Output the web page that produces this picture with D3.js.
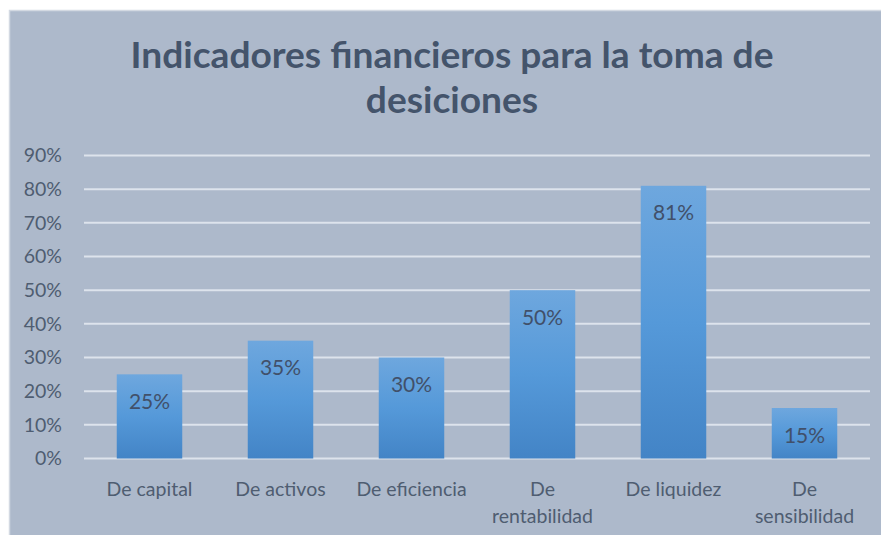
<!DOCTYPE html>
<html>
<head>
<meta charset="utf-8">
<script src="https://cdn.jsdelivr.net/npm/d3@7"></script>
<style>
  html, body { margin: 0; padding: 0; background: #ffffff; }
  svg { display: block; }
</style>
</head>
<body>
<div id="chart"></div>
<script>
const titleLines = ["Indicadores financieros para la toma de", "desiciones"];
const categories = ["De capital", "De activos", "De eficiencia", "De rentabilidad", "De liquidez", "De sensibilidad"];
const categoryLabels = [["De capital"], ["De activos"], ["De eficiencia"], ["De", "rentabilidad"], ["De liquidez"], ["De", "sensibilidad"]];
const values = [0.25, 0.35, 0.30, 0.50, 0.81, 0.15];
const yTicks = [0, 0.1, 0.2, 0.3, 0.4, 0.5, 0.6, 0.7, 0.8, 0.9];

const width = 881, height = 535;
const font = "Lato, 'Open Sans', sans-serif";
const plot = { left: 84, right: 870, top: 155.5, bottom: 458.5 };

const svg = d3.select("#chart").append("svg")
    .attr("width", width)
    .attr("height", height);

// bar gradient, light at the top, darker at the base
const grad = svg.append("defs").append("linearGradient")
    .attr("id", "barGrad")
    .attr("x1", 0).attr("y1", 0).attr("x2", 0).attr("y2", 1);
grad.append("stop").attr("offset", "0%").attr("stop-color", "#6ea7de");
grad.append("stop").attr("offset", "50%").attr("stop-color", "#5599d9");
grad.append("stop").attr("offset", "100%").attr("stop-color", "#4384c6");

// chart area
svg.append("rect")
    .attr("x", 9.5).attr("y", 10.5)
    .attr("width", width).attr("height", height)
    .attr("fill", "#adb9cb")
    .attr("stroke", "#d3d9e2")
    .attr("stroke-width", 1.5);

const x = d3.scaleBand()
    .domain(categories)
    .range([plot.left, plot.right])
    .paddingInner(0.5)
    .paddingOuter(0.25);

const y = d3.scaleLinear()
    .domain([0, 0.9])
    .range([plot.bottom, plot.top]);

// gridlines
svg.append("g")
    .selectAll("line")
    .data(yTicks)
    .join("line")
    .attr("x1", plot.left)
    .attr("x2", plot.right)
    .attr("y1", (d) => y(d))
    .attr("y2", (d) => y(d))
    .attr("stroke", "#dde3ec")
    .attr("stroke-width", 2);

// y axis labels
const yAxis = svg.append("g")
    .attr("transform", `translate(${plot.left},0)`)
    .call(d3.axisLeft(y).tickValues(yTicks).tickFormat(d3.format(".0%")).tickSize(0).tickPadding(22));
yAxis.select(".domain").remove();
yAxis.selectAll("text")
    .attr("font-family", font)
    .attr("font-size", 19.5)
    .attr("fill", "#4f5d71");

// bars
svg.append("g")
    .selectAll("rect")
    .data(values)
    .join("rect")
    .attr("x", (d, i) => x(categories[i]))
    .attr("y", (d) => y(d))
    .attr("width", x.bandwidth())
    .attr("height", (d) => y(0) - y(d))
    .attr("fill", "url(#barGrad)");

// value labels inside bars
svg.append("g")
    .selectAll("text")
    .data(values)
    .join("text")
    .attr("x", (d, i) => x(categories[i]) + x.bandwidth() / 2)
    .attr("y", (d) => y(d) + 26)
    .attr("text-anchor", "middle")
    .attr("dominant-baseline", "central")
    .attr("font-family", font)
    .attr("font-size", 21)
    .attr("fill", "#41506a")
    .text((d) => d3.format(".0%")(d));

// category labels
const catG = svg.append("g");
categories.forEach((c, i) => {
    const t = catG.append("text")
        .attr("x", x(c) + x.bandwidth() / 2)
        .attr("y", 488)
        .attr("text-anchor", "middle")
        .attr("dominant-baseline", "central")
        .attr("font-family", font)
        .attr("font-size", 19.5)
        .attr("fill", "#4f5d71");
    categoryLabels[i].forEach((line, j) => {
        t.append("tspan")
            .attr("x", x(c) + x.bandwidth() / 2)
            .attr("dy", j === 0 ? 0 : 27)
            .text(line);
    });
});

// title
const title = svg.append("g")
    .selectAll("text")
    .data(titleLines)
    .join("text")
    .attr("x", 452)
    .attr("y", (d, i) => 68 + i * 45)
    .attr("text-anchor", "middle")
    .attr("font-family", font)
    .attr("font-weight", 700)
    .attr("font-size", 34)
    .attr("fill", "#44546b")
    .text((d) => d);

// fit first line to the width seen in the reference
const firstLen = title.node().getComputedTextLength();
const fitSize = 34 * 643 / firstLen;
title.attr("font-size", fitSize);
</script>
</body>
</html>
